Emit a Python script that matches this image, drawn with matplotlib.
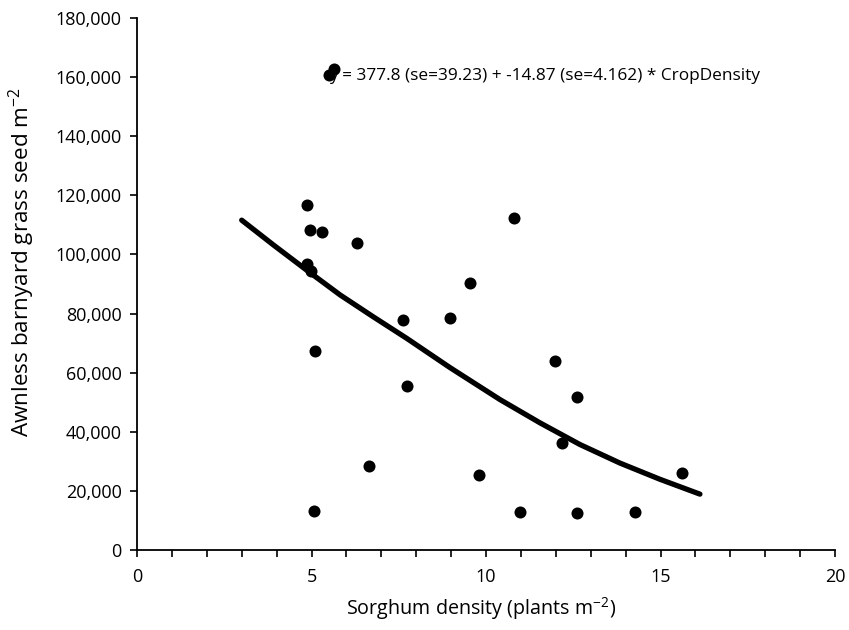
import matplotlib
matplotlib.use("Agg")
import matplotlib.pyplot as plt
from matplotlib.ticker import MultipleLocator, FuncFormatter

plt.rcParams['font.family'] = ['Open Sans', 'DejaVu Sans']
plt.rcParams['mathtext.fontset'] = 'custom'
plt.rcParams['mathtext.rm'] = 'Open Sans'
plt.rcParams['mathtext.it'] = 'Open Sans:italic'

# Observed data (sorghum density, seed per m2)
crop_density = [4.88, 4.97, 5.29, 6.30, 4.87, 4.98, 10.81, 9.54, 7.63, 8.98,
                5.09, 7.74, 11.97, 12.62, 12.17, 6.66, 9.80, 15.61, 10.97,
                12.62, 14.26, 5.08, 5.65, 5.50]
seed = [116600, 108200, 107500, 103900, 96900, 94300, 112400, 90500, 77800,
        78400, 67300, 55600, 63800, 51900, 36200, 28400, 25300, 26100, 12800,
        12400, 12800, 13200, 162700, 160800]

# Fitted curve
fit_x = [3.0, 3.91, 4.86, 5.82, 6.77, 7.73, 8.97, 10.40, 11.55, 12.69,
         13.84, 14.99, 16.13]
fit_y = [111600, 103200, 94700, 86300, 78900, 71600, 61700, 50900, 43000,
         35700, 29400, 23900, 18900]

equation = "y = 377.8 (se=39.23) + -14.87 (se=4.162) * CropDensity"

fig = plt.figure(figsize=(8.49, 6.30), dpi=100)
ax = fig.add_axes([137/849, 1 - 550/630, (835-137)/849, (550-18)/630])

ax.plot(fit_x, fit_y, color='black', lw=3.8, solid_capstyle='round',
        solid_joinstyle='round', zorder=2)
ax.scatter(crop_density, seed, s=75, color='black', zorder=4, linewidths=0)
ax.text(5.51, 160300, equation, fontsize=12.4, va='center', ha='left', zorder=3)

ax.set_xlim(0, 20)
ax.set_ylim(0, 180000)
ax.xaxis.set_major_locator(MultipleLocator(5))
ax.xaxis.set_minor_locator(MultipleLocator(1))
ax.yaxis.set_major_locator(MultipleLocator(20000))
ax.yaxis.set_major_formatter(FuncFormatter(lambda v, p: f"{int(v):,}"))

for s in ['top', 'right']:
    ax.spines[s].set_visible(False)
for s in ['left', 'bottom']:
    ax.spines[s].set_linewidth(1.3)
    ax.spines[s].set_color('black')

ax.tick_params(axis='both', which='both', direction='out', length=5, width=1.2,
               labelsize=13, colors='black')
ax.tick_params(axis='x', which='major', pad=8)
ax.tick_params(axis='y', which='major', pad=6)

ax.set_xlabel(r"Sorghum density (plants m$^{\mathregular{-2}}$)", fontsize=14.2)
ax.set_ylabel(r"Awnless barnyard grass seed m$^{\mathregular{-2}}$", fontsize=16.2)
ax.xaxis.set_label_coords(0.4925, -0.085)
ax.yaxis.set_label_coords(-0.143, 0.541)

fig.savefig("out.png", dpi=100)
